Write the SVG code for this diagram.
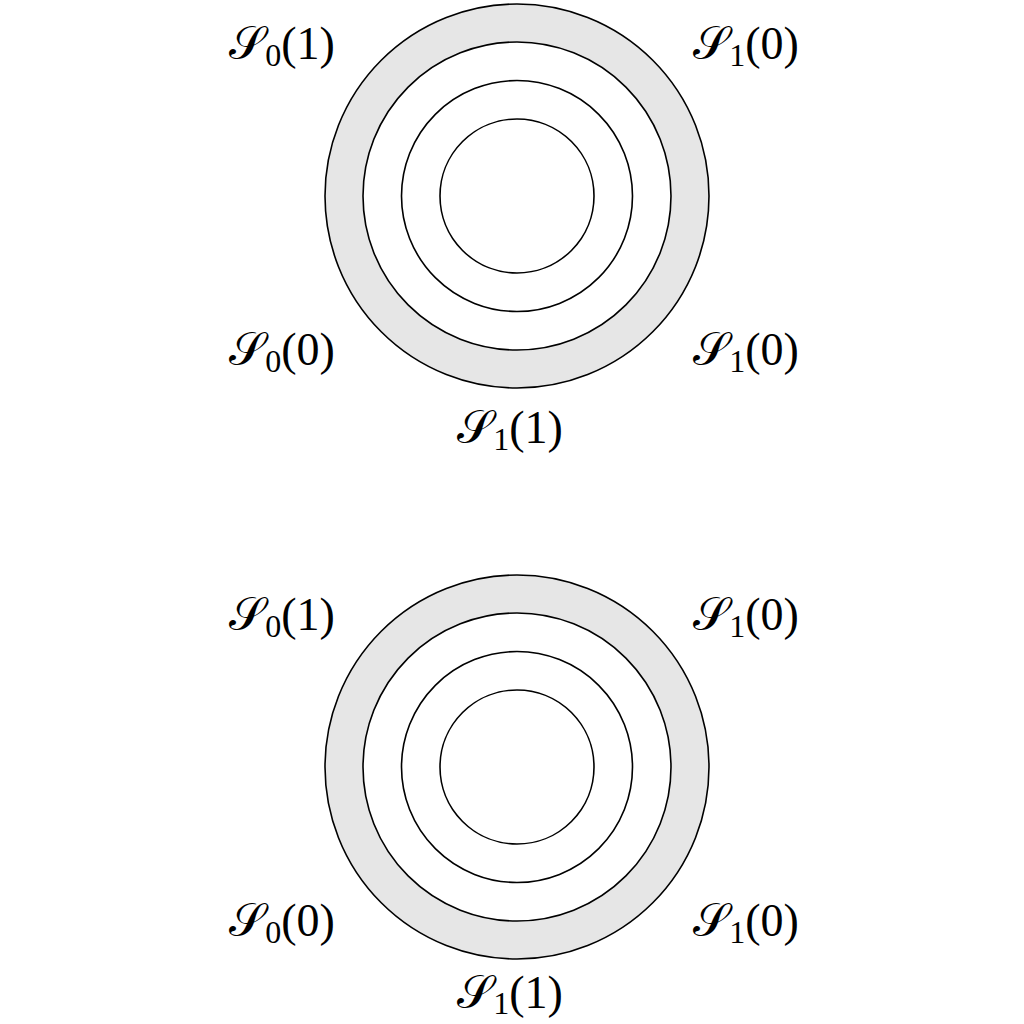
<svg xmlns="http://www.w3.org/2000/svg" width="1024" height="1024" viewBox="0 0 1024 1024">
<style>
.ring{stroke:#000;stroke-width:1.6}
.lbl{font-family:"Liberation Serif","DejaVu Serif",serif;font-size:46px;fill:#000;text-anchor:middle}
.S{font-family:"DejaVu Sans","Noto Sans","DejaVu Serif",serif;font-style:normal}
.sub{font-size:32px}
</style>
<rect width="1024" height="1024" fill="#fff"/>
<g id="diagram-top">
<circle class="ring" cx="517" cy="196" r="192" fill="#e6e6e6"/>
<circle class="ring" cx="517" cy="196" r="154" fill="#fff"/>
<circle class="ring" cx="517" cy="196" r="115.5" fill="none"/>
<circle class="ring" cx="517" cy="196" r="77" fill="none"/>
</g>
<g id="labels-top">
<text class="lbl" x="282" y="59"><tspan class="S">𝒮</tspan><tspan class="sub" dy="7">0</tspan><tspan dy="-7">(1)</tspan></text>
<text class="lbl" x="746" y="59"><tspan class="S">𝒮</tspan><tspan class="sub" dy="7">1</tspan><tspan dy="-7">(0)</tspan></text>
<text class="lbl" x="282" y="365"><tspan class="S">𝒮</tspan><tspan class="sub" dy="7">0</tspan><tspan dy="-7">(0)</tspan></text>
<text class="lbl" x="746" y="365"><tspan class="S">𝒮</tspan><tspan class="sub" dy="7">1</tspan><tspan dy="-7">(0)</tspan></text>
<text class="lbl" x="510" y="443"><tspan class="S">𝒮</tspan><tspan class="sub" dy="7">1</tspan><tspan dy="-7">(1)</tspan></text>
</g>
<g id="diagram-bottom">
<circle class="ring" cx="517" cy="767" r="192" fill="#e6e6e6"/>
<circle class="ring" cx="517" cy="767" r="154" fill="#fff"/>
<circle class="ring" cx="517" cy="767" r="115.5" fill="none"/>
<circle class="ring" cx="517" cy="767" r="77" fill="none"/>
</g>
<g id="labels-bottom">
<text class="lbl" x="282" y="630"><tspan class="S">𝒮</tspan><tspan class="sub" dy="7">0</tspan><tspan dy="-7">(1)</tspan></text>
<text class="lbl" x="746" y="630"><tspan class="S">𝒮</tspan><tspan class="sub" dy="7">1</tspan><tspan dy="-7">(0)</tspan></text>
<text class="lbl" x="282" y="936"><tspan class="S">𝒮</tspan><tspan class="sub" dy="7">0</tspan><tspan dy="-7">(0)</tspan></text>
<text class="lbl" x="746" y="936"><tspan class="S">𝒮</tspan><tspan class="sub" dy="7">1</tspan><tspan dy="-7">(0)</tspan></text>
<text class="lbl" x="510" y="1008"><tspan class="S">𝒮</tspan><tspan class="sub" dy="6">1</tspan><tspan dy="-6">(1)</tspan></text>
</g>
</svg>
